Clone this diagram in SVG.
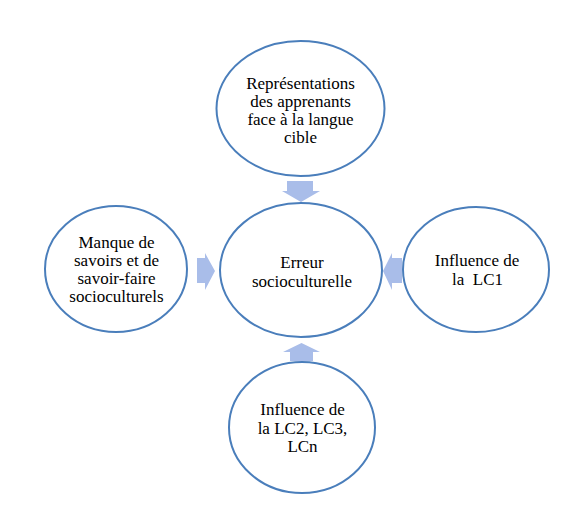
<svg xmlns="http://www.w3.org/2000/svg" width="588" height="514" viewBox="0 0 588 514">
<style>
.node ellipse{fill:#ffffff;stroke:#4a7ebb;stroke-width:2}
.node text{font-family:'Liberation Serif','Times New Roman','DejaVu Serif',serif;font-size:17px;fill:#000;text-anchor:middle;white-space:pre}
.arrow{fill:#a9bde9;stroke:none}
</style>
<rect width="588" height="514" fill="#ffffff"/>
<g id="connectors">
<polygon class="arrow" points="287,181 313,181 313,191 320,191 301,202 282,191 287,191"/>
<polygon class="arrow" points="197,258 205,258 205,253 215,271 205,290 205,283 197,283"/>
<polygon class="arrow" points="402,258 392,258 392,253 383,271 392,290 392,283 402,283"/>
<polygon class="arrow" points="290,361 313,361 313,352 320,352 301.5,343 283,352 290,352"/>
</g>
<g id="node-top" class="node" font-family="Liberation Serif, serif">
<ellipse cx="300.5" cy="108.5" rx="84" ry="67.5"/>
<text x="300.5" y="89">Représentations</text>
<text x="300.5" y="107">des apprenants</text>
<text x="300.5" y="125">face à la langue</text>
<text x="300.5" y="143">cible</text>
</g>
<g id="node-center" class="node" font-family="Liberation Serif, serif">
<ellipse cx="301" cy="270" rx="81" ry="67"/>
<text x="302" y="268">Erreur</text>
<text x="302" y="287">socioculturelle</text>
</g>
<g id="node-left" class="node" font-family="Liberation Serif, serif">
<ellipse cx="116" cy="269" rx="71" ry="63"/>
<text x="116.5" y="248">Manque de</text>
<text x="116.5" y="266">savoirs et de</text>
<text x="116.5" y="284">savoir-faire</text>
<text x="116.5" y="302">socioculturels</text>
</g>
<g id="node-right" class="node" font-family="Liberation Serif, serif">
<ellipse cx="476" cy="269.5" rx="73" ry="62.5"/>
<text x="477" y="266">Influence de</text>
<text x="477.5" y="285">la  LC1</text>
</g>
<g id="node-bottom" class="node" font-family="Liberation Serif, serif">
<ellipse cx="302" cy="427.5" rx="73" ry="65.5"/>
<text x="302.5" y="415">Influence de</text>
<text x="302.5" y="434">la LC2, LC3,</text>
<text x="302.5" y="452">LCn</text>
</g>
</svg>
